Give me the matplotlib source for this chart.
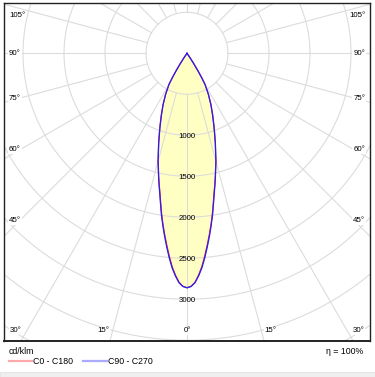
import numpy as np
import matplotlib.pyplot as plt
from matplotlib.lines import Line2D
from matplotlib.patches import Rectangle

plt.rcParams['font.family'] = ['Liberation Sans', 'DejaVu Sans']

# luminous intensity (cd/klm) against gamma angle, same on both halves of each plane
gamma = [0, 1, 2, 3, 4, 5, 6, 7, 8, 9, 10, 11, 12, 13, 14, 15,
         17.5, 20, 22.5, 25, 27.5, 30, 31, 32, 33, 34, 35, 90]
c0_c180 = [2860, 2843, 2794, 2708, 2606, 2482, 2355, 2230, 2106, 1980, 1848, 1730, 1632, 1536, 1442, 1360,
           1152, 972, 822, 692, 566, 440, 345, 245, 150, 65, 0, 0]
c90_c270 = [2860, 2845, 2800, 2718, 2620, 2500, 2372, 2246, 2120, 1994, 1862, 1742, 1640, 1542, 1446, 1364,
            1148, 966, 815, 688, 566, 445, 350, 250, 155, 68, 0, 0]

rings = [500, 1000, 1500, 2000, 2500, 3000, 3500, 4000, 4500]
ring_labels = [1000, 1500, 2000, 2500, 3000]
spokes = np.arange(-180, 181, 15)
side_labels = [105, 90, 75, 60, 45]
bottom_labels = [30, 15, 0]
eta = 100

PX = 12.195  # cd/klm per pixel
XMIN, XMAX, YMIN, YMAX = -2232, 2232, -3509, 613


def to_xy(angles, values, side):
    a = np.radians(angles)
    v = np.asarray(values, dtype=float)
    return side * v * np.sin(a), -v * np.cos(a)


def closed_curve(values):
    xr, yr = to_xy(gamma, values, 1)
    xl, yl = to_xy(gamma, values, -1)
    return np.r_[xl[::-1], xr], np.r_[yl[::-1], yr]


fig = plt.figure(figsize=(3.75, 3.77), dpi=100)
ax = fig.add_axes([4 / 375, 36 / 377, 366 / 375, 338 / 377])
ax.set_xlim(XMIN, XMAX)
ax.set_ylim(YMIN, YMAX)
ax.set_aspect('equal')
ax.set_xticks([])
ax.set_yticks([])
for s in ax.spines.values():
    s.set_color('#222222')
    s.set_linewidth(1.0)
ax.spines['bottom'].set_linewidth(1.4)

# fill first, grid over it
bx, by = closed_curve(c90_c270)
ax.fill(bx, by, color='#ffffc4', zorder=1, lw=0)

t = np.linspace(0, 2 * np.pi, 400)
for r in rings:
    ax.plot(r * np.cos(t), r * np.sin(t), color='#dcdcdc', lw=0.8, zorder=2)
for sp in spokes:
    a = np.radians(sp)
    ax.plot([500 * np.sin(a), 6000 * np.sin(a)], [-500 * np.cos(a), -6000 * np.cos(a)],
            color='#dcdcdc', lw=0.8, zorder=2)

rx, ry = closed_curve(c0_c180)
ax.plot(rx, ry, color='#ff2020', lw=0.9, zorder=3)
ax.plot(bx, by, color='#2020ff', lw=0.9, zorder=4)

for v in ring_labels:
    ax.text(0, -v - 18, str(v), ha='center', va='center', fontsize=5.7, zorder=5)

box = dict(facecolor='white', edgecolor='none', pad=0.6)
col_x = XMAX - 16 * PX
for ang in side_labels:
    a = np.radians(ang)
    y = -col_x / np.sin(a) * np.cos(a)
    y = min(y, YMAX - 12 * PX)
    ax.text(XMIN + 5 * PX, y, f'{ang}°', ha='left', va='center', fontsize=5.7, bbox=box, zorder=6)
    ax.text(XMAX - 5 * PX, y, f'{ang}°', ha='right', va='center', fontsize=5.7, bbox=box, zorder=6)

row_y = YMIN + 10 * PX
for ang in bottom_labels:
    a = np.radians(ang)
    x = -row_y * np.tan(a)
    if ang:
        # labels sit a little outside where the spoke meets the row
        x = x + (7 + ang / 7.5) * PX
    for side in ([1, -1] if ang else [1]):
        ax.text(side * x, row_y, f'{ang}°', ha='center', va='center', fontsize=5.7, bbox=box, zorder=6)

# legend area under the frame
fig.text(9 / 375, 1 - 351 / 377, 'cd/klm', ha='left', va='center', fontsize=6.3)
fig.text(363 / 375, 1 - 351 / 377, f'η = {eta}%', ha='right', va='center', fontsize=6.3)
ly = 1 - 361 / 377
fig.add_artist(Line2D([9 / 375, 32 / 375], [ly, ly], color='#ffaaaa', lw=1.6))
fig.text(33 / 375, ly, 'C0 - C180', ha='left', va='center', fontsize=6.3)
fig.add_artist(Line2D([83 / 375, 107 / 375], [ly, ly], color='#aaaaff', lw=1.6))
fig.text(108 / 375, ly, 'C90 - C270', ha='left', va='center', fontsize=6.3)

fig.add_artist(Rectangle((0, 0), 1, 5.5 / 377, transform=fig.transFigure,
                         facecolor='#efefef', edgecolor='#e2e2e2', lw=0.6))

fig.savefig('out.png', dpi=100)
